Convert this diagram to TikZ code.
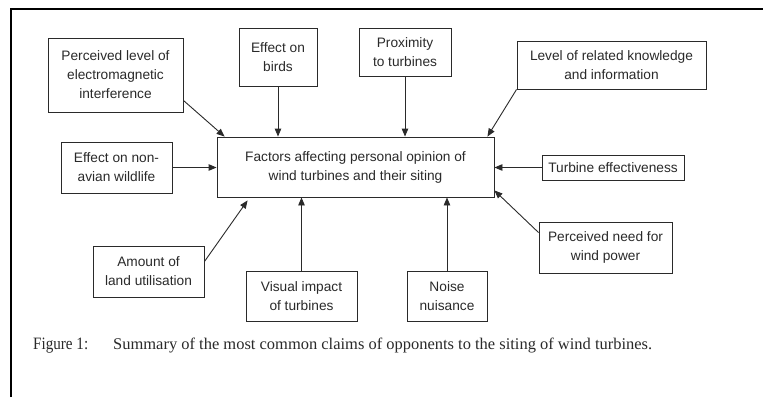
\documentclass[tikz,border=0pt]{standalone}
\usepackage{fontspec}
\setmainfont{Liberation Sans}
\newfontfamily\capfont{Liberation Serif}
\usetikzlibrary{arrows.meta}
\definecolor{ink}{HTML}{2A2A2A}
\begin{document}
\begin{tikzpicture}[x=1pt,y=-1pt,
  box/.style={draw=ink, line width=0.9pt, inner sep=0pt, align=center, text=ink,
    font=\fontsize{13.7}{19}\selectfont},
  arr/.style={draw=ink, line width=0.9pt, -{Triangle[length=8pt,width=6.5pt]}}]
\useasboundingbox (0,0) rectangle (763,397);
\fill[white] (0,0) rectangle (763,397);
% frame
\draw[black, line width=2pt] (11,397) -- (11,9) -- (763,9);
% nodes
\node[box, minimum width=277pt, minimum height=60pt] (central) at (355.5,167)
  {Factors affecting personal opinion of\\wind turbines and their siting};
\node[box, minimum width=135pt, minimum height=74pt] (emi) at (115.5,75)
  {Perceived level of\\electromagnetic\\interference};
\node[box, minimum width=78pt, minimum height=58pt] (birds) at (278,57)
  {Effect on\\birds};
\node[box, minimum width=92pt, minimum height=48pt] (prox) at (405,52)
  {Proximity\\to turbines};
\node[box, minimum width=189pt, minimum height=48pt] (know) at (611.5,65)
  {Level of related knowledge\\and information};
\node[box, minimum width=111pt, minimum height=51pt] (nonav) at (116.5,167.5)
  {Effect on non-\\avian wildlife};
\node[box, minimum width=142pt, minimum height=25pt] (turb) at (613,167.5)
  {Turbine effectiveness};
\node[box, minimum width=133pt, minimum height=51pt] (need) at (605.5,247.5)
  {Perceived need for\\wind power};
\node[box, minimum width=111pt, minimum height=51pt] (land) at (148.5,271.5)
  {Amount of\\land utilisation};
\node[box, minimum width=111pt, minimum height=50pt] (visual) at (301.5,296)
  {Visual impact\\of turbines};
\node[box, minimum width=80pt, minimum height=50pt] (noise) at (447,296)
  {Noise\\nuisance};
% connectors
\draw[arr] ([yshift=12pt]emi.south east) -- ([xshift=8pt]central.north west);
\draw[arr] (birds.south) -- (birds.south |- central.north);
\draw[arr] (prox.south) -- (prox.south |- central.north);
\draw[arr] (know.south west) -- ([xshift=-7pt]central.north east);
\draw[arr] (nonav.east) -- (nonav.east -| central.west);
\draw[arr] (turb.west) -- (turb.west -| central.east);
\draw[arr] ([yshift=-11pt]need.north west) -- ([yshift=7pt]central.south east);
\draw[arr] ([yshift=-16pt]land.north east) -- ([xshift=31pt,yshift=-3pt]central.south west);
\draw[arr] (visual.north) -- (visual.north |- central.south);
\draw[arr] (noise.north) -- (noise.north |- central.south);
% caption
\node[anchor=base west, inner sep=0pt, text=ink] (figlabel) at (33,349)
  {\resizebox{55pt}{11.5pt}{\capfont Figure 1:}};
\node[anchor=base west, inner sep=0pt, text=ink] (caption) at (113,349)
  {\resizebox{539pt}{11.5pt}{\capfont Summary of the most common claims of opponents to the siting of wind turbines.}};
\end{tikzpicture}
\end{document}
